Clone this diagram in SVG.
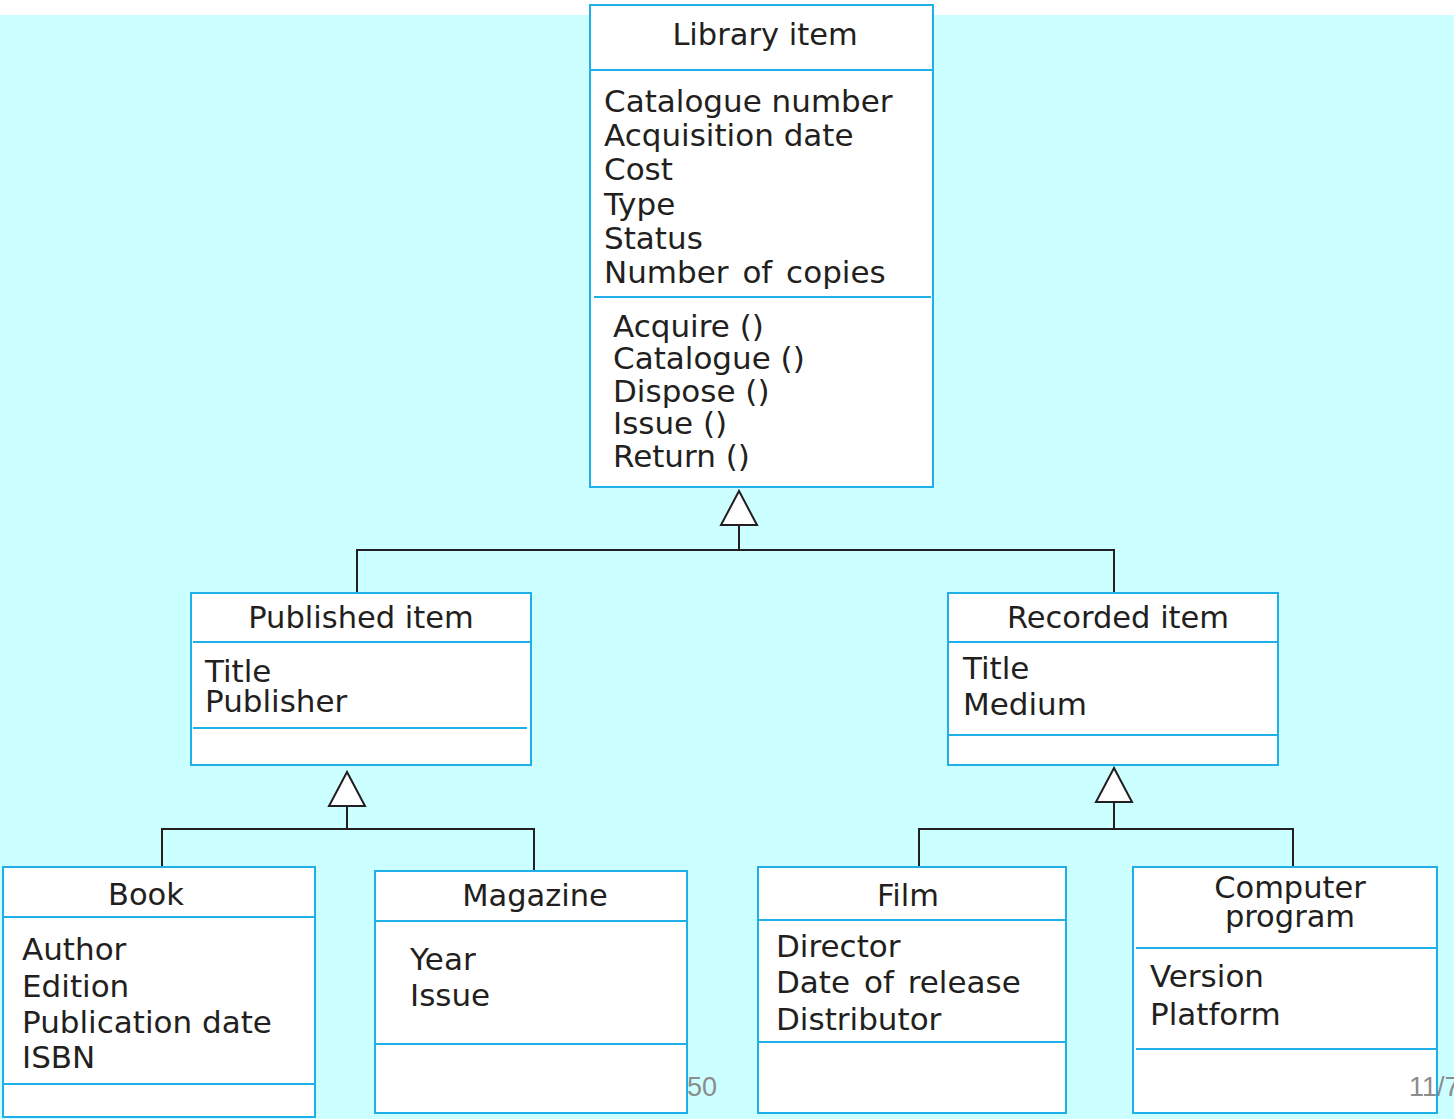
<svg xmlns="http://www.w3.org/2000/svg" width="1454" height="1119" viewBox="0 0 1454 1119">
  <style>
    .box { fill: #ffffff; stroke: #1fb0ea; stroke-width: 2; }
    .sep { stroke: #1fb0ea; stroke-width: 2; fill: none; }
    .link { stroke: #231f20; stroke-width: 2; fill: none; }
    .head { stroke: #231f20; stroke-width: 2; fill: #ffffff; }
    text { font-family: "DejaVu Sans", "Liberation Sans", sans-serif; fill: #231f20; font-size: 31px; }
    .name { text-anchor: middle; font-size: 30.5px; }
    .wide { word-spacing: 4px; }
    .page { font-family: "Liberation Sans", Arial, sans-serif; fill: #8c8c8c; font-size: 27px; }
  </style>
  <defs>
    <!-- hollow generalisation arrowhead, apex at origin -->
    <polygon id="gen" points="0,0 -18,34 18,34" class="head"/>
  </defs>

  <rect x="0" y="15" width="1454" height="1104" fill="#ccffff"/>

  <!-- generalisation connectors -->
  <g id="connectors">
    <path class="link" d="M739,525 V550 M357,592 V550 H1114 V593"/>
    <use href="#gen" x="739" y="491"/>
    <path class="link" d="M347,806 V829 M162,867 V829 H534 V870"/>
    <use href="#gen" x="347" y="772"/>
    <path class="link" d="M1114,803 V829 M919,867 V829 H1293 V866"/>
    <use href="#gen" x="1114" y="768"/>
  </g>

  <g id="library-item">
    <rect class="box" x="590" y="5" width="343" height="482"/>
    <line class="sep" x1="590" y1="70" x2="933" y2="70"/>
    <line class="sep" x1="594" y1="297" x2="931" y2="297"/>
    <text class="name" x="765" y="45">Library item</text>
    <text x="604" y="112">Catalogue number</text>
    <text x="604" y="146">Acquisition date</text>
    <text x="604" y="180">Cost</text>
    <text x="604" y="215">Type</text>
    <text x="604" y="249">Status</text>
    <text class="wide" x="604" y="283">Number of copies</text>
    <text x="613" y="337">Acquire ()</text>
    <text x="613" y="369">Catalogue ()</text>
    <text x="613" y="402">Dispose ()</text>
    <text x="613" y="434">Issue ()</text>
    <text x="613" y="467">Return ()</text>
  </g>

  <g id="published-item">
    <rect class="box" x="191" y="593" width="340" height="172"/>
    <line class="sep" x1="193" y1="642" x2="531" y2="642"/>
    <line class="sep" x1="193" y1="728" x2="527" y2="728"/>
    <text class="name" x="361" y="628">Published item</text>
    <text x="205" y="682">Title</text>
    <text x="205" y="712">Publisher</text>
  </g>

  <g id="recorded-item">
    <rect class="box" x="948" y="593" width="330" height="172"/>
    <line class="sep" x1="948" y1="642" x2="1278" y2="642"/>
    <line class="sep" x1="948" y1="735" x2="1278" y2="735"/>
    <text class="name" x="1118" y="628">Recorded item</text>
    <text x="963" y="679">Title</text>
    <text x="963" y="715">Medium</text>
  </g>

  <g id="book">
    <rect class="box" x="3" y="867" width="312" height="250"/>
    <line class="sep" x1="3" y1="917" x2="315" y2="917"/>
    <line class="sep" x1="3" y1="1084" x2="315" y2="1084"/>
    <text class="name" x="146" y="905">Book</text>
    <text x="22" y="960">Author</text>
    <text x="22" y="997">Edition</text>
    <text x="22" y="1033">Publication date</text>
    <text x="22" y="1068">ISBN</text>
  </g>

  <g id="magazine">
    <rect class="box" x="375" y="871" width="312" height="242"/>
    <line class="sep" x1="375" y1="921" x2="687" y2="921"/>
    <line class="sep" x1="375" y1="1044" x2="687" y2="1044"/>
    <text class="name" x="535" y="906">Magazine</text>
    <text x="410" y="970">Year</text>
    <text x="410" y="1006">Issue</text>
  </g>

  <g id="film">
    <rect class="box" x="758" y="867" width="308" height="246"/>
    <line class="sep" x1="758" y1="920" x2="1066" y2="920"/>
    <line class="sep" x1="758" y1="1042" x2="1066" y2="1042"/>
    <text class="name" x="908" y="906">Film</text>
    <text x="776" y="957">Director</text>
    <text class="wide" x="776" y="993">Date of release</text>
    <text x="776" y="1030">Distributor</text>
  </g>

  <g id="computer-program">
    <rect class="box" x="1133" y="867" width="304" height="246"/>
    <line class="sep" x1="1136" y1="948" x2="1437" y2="948"/>
    <line class="sep" x1="1136" y1="1049" x2="1437" y2="1049"/>
    <text class="name" x="1290" y="898">Computer</text>
    <text class="name" x="1290" y="927">program</text>
    <text x="1150" y="987">Version</text>
    <text x="1150" y="1025">Platform</text>
  </g>

  <!-- page markers -->
  <text class="page" x="687" y="1096">50</text>
  <text class="page" x="1409" y="1096">11/7</text>
</svg>
